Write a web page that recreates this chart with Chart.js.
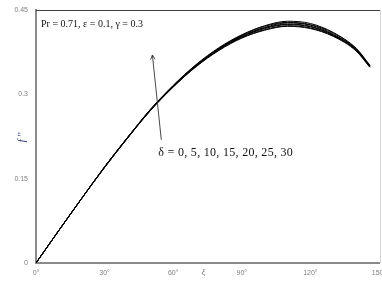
<!DOCTYPE html>
<html><head><meta charset="utf-8">
<script src="https://cdn.jsdelivr.net/npm/chart.js@4"></script>
<style>html,body{margin:0;padding:0;background:#fff;overflow:hidden}</style>
</head><body>
<canvas id="c" width="382" height="284"></canvas>
<script>
// ξ (degrees)
const xi = [0, 10, 20, 30, 40, 50, 60, 70, 80, 90, 100, 110, 120, 130, 140, 146];
const deltas = [0, 5, 10, 15, 20, 25, 30];
// f'' for each δ
const fD0  = [0, 0.058, 0.115, 0.170, 0.222, 0.271, 0.313, 0.349, 0.378, 0.400, 0.414, 0.421, 0.417, 0.403, 0.377, 0.348];
const fD5  = [0, 0.058, 0.115, 0.170, 0.222, 0.271, 0.313, 0.350, 0.379, 0.401, 0.415, 0.422, 0.418, 0.404, 0.378, 0.349];
const fD10 = [0, 0.058, 0.115, 0.170, 0.222, 0.272, 0.314, 0.350, 0.380, 0.402, 0.417, 0.424, 0.420, 0.405, 0.379, 0.349];
const fD15 = [0, 0.058, 0.115, 0.171, 0.223, 0.272, 0.314, 0.351, 0.381, 0.403, 0.418, 0.425, 0.421, 0.406, 0.380, 0.350];
const fD20 = [0, 0.058, 0.115, 0.171, 0.223, 0.272, 0.315, 0.352, 0.381, 0.404, 0.419, 0.427, 0.423, 0.407, 0.380, 0.351];
const fD25 = [0, 0.058, 0.115, 0.171, 0.223, 0.273, 0.315, 0.352, 0.382, 0.405, 0.421, 0.428, 0.424, 0.409, 0.381, 0.351];
const fD30 = [0, 0.058, 0.115, 0.171, 0.223, 0.273, 0.316, 0.353, 0.383, 0.406, 0.422, 0.430, 0.426, 0.410, 0.382, 0.352];
const seriesValues = [fD0, fD5, fD10, fD15, fD20, fD25, fD30];
const xTicks = [0, 30, 60, 90, 120, 150];
const yTicks = [0, 0.15, 0.3, 0.45];
const paramText = "Pr = 0.71, \u03b5 = 0.1, \u03b3 = 0.3";
const deltaText = "\u03b4 = 0, 5, 10, 15, 20, 25, 30";
// annotation anchors in data units
const paramPos = [2.2, 0.425];
const deltaPos = [53.5, 0.196];
const arrowFrom = [54.8, 0.219];
const arrowTo = [50.9, 0.370];

const datasets = seriesValues.map((vals, i) => ({
  label: "\u03b4 = " + deltas[i],
  data: xi.map((x, j) => ({x: x, y: vals[j]})),
  borderColor: '#000',
  borderWidth: 1,
  pointRadius: 0,
  fill: false,
  cubicInterpolationMode: 'monotone'
}));

const deco = {
  id: 'deco',
  afterDatasetsDraw(chart) {
    const ctx = chart.ctx, a = chart.chartArea, sx = chart.scales.x, sy = chart.scales.y;
    ctx.save();
    // top border
    ctx.strokeStyle = '#404040'; ctx.lineWidth = 1;
    ctx.beginPath(); ctx.moveTo(a.left, a.top + 0.5); ctx.lineTo(a.right + 2, a.top + 0.5); ctx.stroke();
    // right border
    ctx.strokeStyle = '#d4d4d4';
    ctx.beginPath(); ctx.moveTo(a.right + 1.5, a.top); ctx.lineTo(a.right + 1.5, a.bottom); ctx.stroke();
    // texts
    ctx.fillStyle = '#111';
    ctx.textBaseline = 'middle'; ctx.textAlign = 'left';
    ctx.font = '10px "Liberation Serif", "Times New Roman", serif';
    ctx.fillText(paramText, sx.getPixelForValue(paramPos[0]), sy.getPixelForValue(paramPos[1]));
    ctx.font = '12px "Liberation Serif", "Times New Roman", serif';
    ctx.letterSpacing = '0.3px';
    ctx.fillText(deltaText, sx.getPixelForValue(deltaPos[0]), sy.getPixelForValue(deltaPos[1]));
    ctx.letterSpacing = '0px';
    // arrow
    const x1 = sx.getPixelForValue(arrowFrom[0]), y1 = sy.getPixelForValue(arrowFrom[1]);
    const x2 = sx.getPixelForValue(arrowTo[0]), y2 = sy.getPixelForValue(arrowTo[1]);
    ctx.strokeStyle = '#333'; ctx.lineWidth = 0.9;
    ctx.beginPath(); ctx.moveTo(x1, y1); ctx.lineTo(x2, y2); ctx.stroke();
    const ang = Math.atan2(y2 - y1, x2 - x1), L = 5;
    ctx.beginPath();
    ctx.moveTo(x2 - L * Math.cos(ang - 0.45), y2 - L * Math.sin(ang - 0.45));
    ctx.lineTo(x2, y2);
    ctx.lineTo(x2 - L * Math.cos(ang + 0.45), y2 - L * Math.sin(ang + 0.45));
    ctx.stroke();
    // axis titles
    ctx.fillStyle = '#808080';
    ctx.font = 'italic 9px "Liberation Serif", serif';
    ctx.textAlign = 'center';
    ctx.fillText('\u03be', (sx.getPixelForValue(60) + sx.getPixelForValue(90)) / 2 - 4, a.bottom + 10);
    ctx.save();
    ctx.translate(22, (a.top + a.bottom) / 2 + 1);
    ctx.rotate(-Math.PI / 2);
    ctx.fillStyle = '#1f2a66';
    ctx.font = 'italic 10px "Liberation Serif", serif';
    ctx.fillText("f ''", 0, 0);
    ctx.restore();
    ctx.restore();
  }
};

new Chart(document.getElementById('c'), {
  type: 'line',
  data: {datasets},
  options: {
    responsive: false,
    animation: false,
    layout: {padding: {top: 10, right: 3, left: 0, bottom: 0}},
    plugins: {legend: {display: false}, tooltip: {enabled: false}},
    scales: {
      x: {
        type: 'linear', min: 0, max: 150,
        grid: {display: false, drawTicks: false},
        border: {display: true, color: '#8a8a8a', width: 2},
        afterBuildTicks: s => { s.ticks = xTicks.map(v => ({value: v})); },
        ticks: {
          padding: 6, color: '#7f7f7f', maxRotation: 0, autoSkip: false,
          font: {family: '"Liberation Sans", sans-serif', size: 7},
          callback: v => v + '\u00b0'
        },
        afterFit: s => { s.height = 21; s.paddingLeft = 0; s.paddingRight = 0; }
      },
      y: {
        type: 'linear', min: 0, max: 0.45,
        grid: {display: false, drawTicks: false},
        border: {display: true, color: '#8a8a8a', width: 2},
        afterBuildTicks: s => { s.ticks = yTicks.map(v => ({value: v})); },
        ticks: {
          padding: 8, color: '#7f7f7f', autoSkip: false,
          font: {family: '"Liberation Sans", sans-serif', size: 7},
          callback: v => String(Math.round(v * 100) / 100)
        },
        afterFit: s => { s.width = 36; s.paddingTop = 0; s.paddingBottom = 0; }
      }
    }
  },
  plugins: [deco]
});
</script>
</body></html>
